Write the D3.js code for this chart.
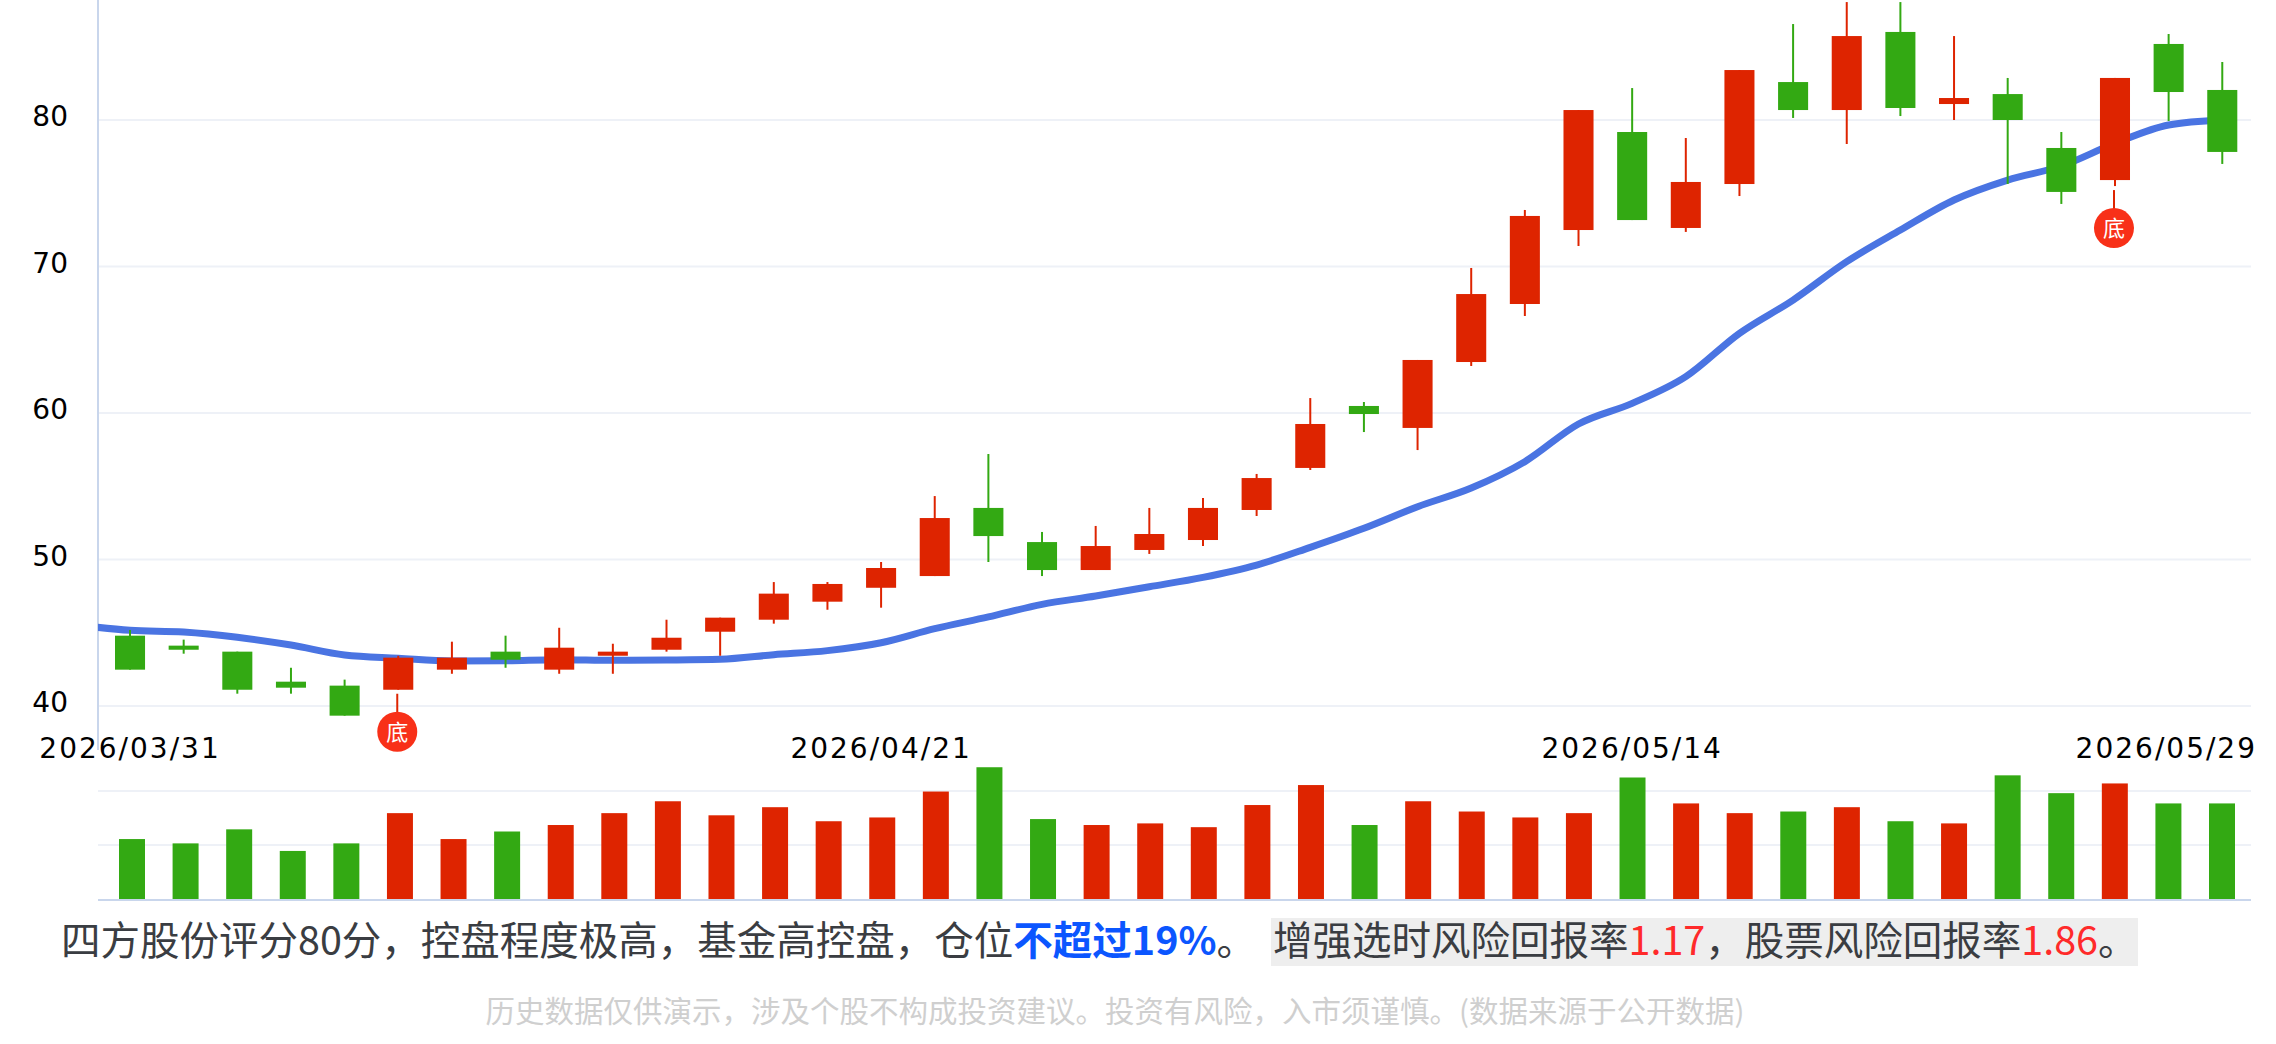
<!DOCTYPE html>
<html>
<head>
<meta charset="utf-8">
<script src="https://cdn.jsdelivr.net/npm/d3@7/dist/d3.min.js"></script>
<style>
  body { margin: 0; background: #fff; }
  svg { display: block; }
  .tick-label { font-family: "DejaVu Sans", sans-serif; fill: #000; }
  .note { font-family: "Noto Sans CJK SC", sans-serif; }
</style>
</head>
<body>
<svg id="chart" width="2276" height="1044"></svg>
<script>
const dates = ['03/31', '04/01', '04/02', '04/03', '04/07', '04/08', '04/09', '04/10',
  '04/13', '04/14', '04/15', '04/16', '04/17', '04/20', '04/21', '04/22', '04/23',
  '04/24', '04/27', '04/28', '04/29', '04/30', '05/06', '05/07', '05/08', '05/11',
  '05/12', '05/13', '05/14', '05/15', '05/18', '05/19', '05/20', '05/21', '05/22',
  '05/25', '05/26', '05/27', '05/28', '05/29'].map(d => '2026/' + d);

const opens = [44.80, 44.12, 43.71, 41.66, 41.39, 41.11, 42.48, 43.71, 42.48, 43.43,
  43.84, 45.07, 45.89, 47.12, 48.07, 48.87, 53.52, 51.19, 49.28, 50.65,
  51.33, 53.38, 56.25, 60.48, 58.98, 63.48, 67.44, 72.49, 79.18, 72.63,
  75.63, 82.59, 80.68, 86.01, 81.09, 81.77, 78.09, 75.90, 85.19, 82.05];
const closes = [42.48, 43.84, 41.11, 41.25, 39.34, 43.30, 43.30, 43.16, 43.98, 43.71,
  44.66, 46.03, 47.67, 48.33, 49.42, 52.83, 51.60, 49.28, 50.92, 51.74,
  53.52, 55.56, 59.25, 59.93, 63.62, 68.12, 73.45, 80.68, 73.17, 75.77,
  83.41, 80.68, 85.73, 80.82, 81.50, 80.00, 75.09, 82.87, 81.91, 77.82];
const highs = [45.19, 44.53, 43.71, 42.61, 41.80, 43.43, 44.39, 44.80, 45.34, 44.25,
  45.89, 46.03, 48.46, 48.46, 49.83, 54.33, 57.20, 51.88, 52.29, 53.52,
  54.20, 55.84, 61.02, 60.75, 63.62, 69.90, 73.86, 80.68, 82.18, 78.77,
  83.41, 86.55, 88.05, 88.05, 85.73, 82.87, 79.18, 82.87, 85.87, 83.96];
const lows = [42.48, 43.57, 40.84, 40.84, 39.34, 41.11, 42.20, 42.61, 42.20, 42.20,
  43.71, 43.43, 45.62, 46.57, 46.71, 48.87, 49.83, 48.87, 49.28, 50.38,
  50.92, 52.97, 56.11, 58.70, 57.47, 63.21, 66.62, 71.40, 73.17, 72.36,
  74.81, 80.14, 78.36, 80.27, 80.00, 75.63, 74.27, 75.49, 79.93, 77.00];

// starts one session before the first candle, the plot clip cuts it at the axis
const avgLine = [45.53, 45.17, 45.05, 44.69, 44.16, 43.48, 43.26, 43.07, 43.09, 43.16,
  43.12, 43.14, 43.19, 43.50, 43.78, 44.32, 45.28, 46.08, 46.94, 47.51,
  48.14, 48.78, 49.62, 50.83, 52.13, 53.60, 54.88, 56.68, 59.25, 60.66,
  62.48, 65.44, 67.71, 70.33, 72.49, 74.54, 75.90, 76.86, 78.41, 79.66, 80.00];

const volumes = [1.11, 1.03, 1.29, 0.89, 1.03, 1.59, 1.11, 1.25, 1.37, 1.59,
  1.81, 1.55, 1.70, 1.44, 1.51, 1.99, 2.44, 1.48, 1.37, 1.40,
  1.33, 1.74, 2.11, 1.37, 1.81, 1.62, 1.51, 1.59, 2.25, 1.77,
  1.59, 1.62, 1.70, 1.44, 1.40, 2.29, 1.96, 2.14, 1.77, 1.77];

const priceTicks = [40, 50, 60, 70, 80];
const volumeTicks = [1, 2];
const dateTicks = ['2026/03/31', '2026/04/21', '2026/05/14', '2026/05/29'];
const bottomSignals = ['2026/04/08', '2026/05/27'];

const RED = '#de2400';
const GREEN = '#33a913';
const GRID = '#eef1f7';
const AXIS = '#c9d6ec';
const plotLeft = 98;
const plotRight = 2251;

const svg = d3.select('#chart');

const x = d3.scaleBand().domain(dates).range([103.2, 2249.1])
  .paddingInner(0.44).paddingOuter(0.22);
const xVolume = d3.scaleBand().domain(dates).range([105.2, 2248.8])
  .paddingInner(0.515).paddingOuter(0.2575);
const xCenter = d => x(d) + x.bandwidth() / 2;
const xLine = d3.scaleLinear().domain([0, dates.length - 1])
  .range([xCenter(dates[0]), xCenter(dates[dates.length - 1])]);

const y = d3.scaleLinear().domain([40, 80]).range([706, 120]);
const yVolume = d3.scaleLinear().domain([0, 2]).range([899, 791]);

svg.append('defs').append('clipPath').attr('id', 'plot-clip')
  .append('rect')
  .attr('x', plotLeft).attr('y', 0)
  .attr('width', plotRight - plotLeft).attr('height', 790);

const isUp = i => closes[i] >= opens[i];
const color = i => isUp(i) ? RED : GREEN;

// grid lines
svg.append('g').selectAll('line').data(priceTicks).join('line')
  .attr('x1', plotLeft).attr('x2', plotRight)
  .attr('y1', d => y(d)).attr('y2', d => y(d))
  .attr('stroke', GRID).attr('stroke-width', 2);
svg.append('g').selectAll('line').data(volumeTicks).join('line')
  .attr('x1', plotLeft).attr('x2', plotRight)
  .attr('y1', d => yVolume(d)).attr('y2', d => yVolume(d))
  .attr('stroke', GRID).attr('stroke-width', 2);

svg.append('line')
  .attr('x1', plotLeft).attr('x2', plotLeft).attr('y1', 0).attr('y2', 750)
  .attr('stroke', AXIS).attr('stroke-width', 2);

// price labels
const yAxis = d3.axisLeft(y).tickValues(priceTicks).tickSize(0).tickPadding(30);
svg.append('g').attr('transform', `translate(${plotLeft},-3)`).call(yAxis)
  .call(g => g.select('.domain').remove())
  .selectAll('text')
  .attr('class', 'tick-label').attr('font-size', 28);

// moving average goes under the candles
const avgPath = d3.line()
  .x((d, i) => xLine(i - 1))
  .y(d => y(d))
  .curve(d3.curveMonotoneX);
svg.append('path')
  .attr('clip-path', 'url(#plot-clip)')
  .attr('d', avgPath(avgLine))
  .attr('fill', 'none').attr('stroke', '#4a74e2').attr('stroke-width', 7);

// candles
const candles = svg.append('g').selectAll('g').data(dates).join('g');
candles.append('line')
  .attr('x1', d => xCenter(d)).attr('x2', d => xCenter(d))
  .attr('y1', (d, i) => y(highs[i])).attr('y2', (d, i) => y(lows[i]))
  .attr('stroke', (d, i) => color(i)).attr('stroke-width', 2);
candles.append('rect')
  .attr('x', d => x(d)).attr('width', x.bandwidth())
  .attr('y', (d, i) => y(Math.max(opens[i], closes[i])))
  .attr('height', (d, i) => Math.abs(y(opens[i]) - y(closes[i])))
  .attr('fill', (d, i) => color(i));

// 底 signals under the low of the day
const signals = svg.append('g').selectAll('g').data(bottomSignals).join('g')
  .attr('transform', d => `translate(${xCenter(d) - 1},${y(lows[dates.indexOf(d)])})`);
signals.append('line')
  .attr('y1', 4).attr('y2', 30)
  .attr('stroke', RED).attr('stroke-width', 2);
signals.append('circle')
  .attr('cy', 42).attr('r', 20).attr('fill', '#f83018');
signals.append('text')
  .attr('y', 42).attr('dy', '0.36em').attr('text-anchor', 'middle')
  .attr('class', 'note').attr('font-size', 22).attr('fill', '#fff')
  .text('底');

// date labels, the last one is held inside the chart edge
const xAxis = d3.axisBottom(x).tickValues(dateTicks).tickSize(0).tickPadding(0);
svg.append('g').attr('transform', 'translate(0,738)').call(xAxis)
  .call(g => g.select('.domain').remove())
  .selectAll('text')
  .attr('class', 'tick-label').attr('font-size', 28).attr('letter-spacing', 2)
  .attr('text-anchor', (d, i) => i === dateTicks.length - 1 ? 'end' : 'middle')
  .attr('x', (d, i) => i === dateTicks.length - 1 ? 2257 - xCenter(d) : 0);

// volume bars
svg.append('g').selectAll('rect').data(dates).join('rect')
  .attr('x', d => xVolume(d)).attr('width', xVolume.bandwidth())
  .attr('y', (d, i) => yVolume(volumes[i]))
  .attr('height', (d, i) => yVolume(0) - yVolume(volumes[i]))
  .attr('fill', (d, i) => color(i));
svg.append('line')
  .attr('x1', plotLeft).attr('x2', plotRight)
  .attr('y1', yVolume(0) + 1).attr('y2', yVolume(0) + 1)
  .attr('stroke', AXIS).attr('stroke-width', 2);

// notes under the chart
svg.append('rect')
  .attr('x', 1271).attr('y', 918).attr('width', 867).attr('height', 48)
  .attr('fill', '#eeeeee');

const line1 = svg.append('text').attr('class', 'note')
  .attr('x', 61).attr('y', 955).attr('font-size', 39.5).attr('fill', '#3a3d42');
line1.append('tspan').text('四方股份评分80分，控盘程度极高，基金高控盘，仓位');
line1.append('tspan').attr('fill', '#0b56ff').attr('font-weight', 700).text('不超过19%');
line1.append('tspan').text('。');

const line2 = svg.append('text').attr('class', 'note')
  .attr('x', 1273).attr('y', 955).attr('font-size', 39.5).attr('fill', '#3a3d42');
line2.append('tspan').text('增强选时风险回报率');
line2.append('tspan').attr('fill', '#ff2a2a').text('1.17');
line2.append('tspan').text('，股票风险回报率');
line2.append('tspan').attr('fill', '#ff2a2a').text('1.86');
line2.append('tspan').text('。');

svg.append('text').attr('class', 'note')
  .attr('x', 1115).attr('y', 1022).attr('text-anchor', 'middle')
  .attr('font-size', 29.5).attr('fill', '#cfcfcf')
  .text('历史数据仅供演示，涉及个股不构成投资建议。投资有风险，入市须谨慎。(数据来源于公开数据)');
</script>
</body>
</html>
